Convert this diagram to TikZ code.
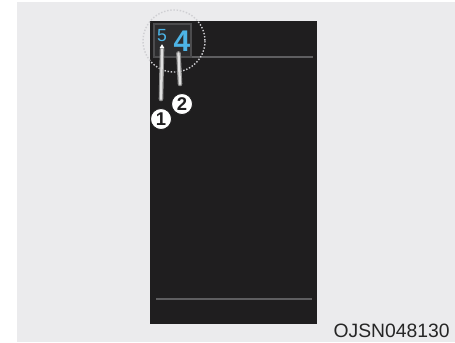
\documentclass[tikz,border=0pt]{standalone}
\usepackage{fontspec}
\setmainfont{Liberation Sans}
\usepackage{tikz}
\usetikzlibrary{positioning}
\definecolor{PageGray}{HTML}{EBEBED}
\definecolor{ScreenBlack}{HTML}{1F1E1F}
\definecolor{BoxGray}{HTML}{2C2C2E}
\definecolor{EdgeGray}{HTML}{4C4C4E}
\definecolor{RuleGray}{HTML}{5E5E60}
\definecolor{GearBlue}{HTML}{4DB4E6}
\definecolor{RingGray}{HTML}{CFCFD3}
\tikzset{
  gearbox/.style={
    draw=EdgeGray,fill=BoxGray,line width=0.6pt,
    minimum width=37*0.02cm,minimum height=33*0.02cm,inner sep=0pt
  },
  callout/.style={
    circle,draw=ScreenBlack,fill=white,line width=0.5pt,
    minimum size=21*0.02cm,inner sep=0pt,
    font=\fontsize{10.5}{10.5}\selectfont\bfseries\color{ScreenBlack}
  },
  leader/.style={
    line width=2.6pt,draw=black!45,line cap=round
  },
  leadercore/.style={
    line width=1.3pt,draw=white!88!black,line cap=round
  },
}

\begin{document}
\begin{tikzpicture}[x=0.02cm,y=-0.02cm]
  \useasboundingbox (0,0) rectangle (455,342);
  \fill[white] (0,0) rectangle (455,342);
  \fill[PageGray] (17,2) rectangle (455,342);
  % cluster display
  \fill[ScreenBlack] (150,21) rectangle (317,324);
  \draw[line width=0.8pt, draw=RuleGray] (192,57) -- (313,57);
  \draw[line width=0.8pt, draw=RuleGray] (156,299) -- (312,299);
  \node[gearbox] (box) at (172.5,40.5) {};
  \node[font=\fontsize{10}{10}\selectfont, text=GearBlue, inner sep=0pt] (d5) at (162,36) {5};
  \node[font=\fontsize{17}{17}\selectfont\bfseries, text=GearBlue, inner sep=0pt] (d4) at (182,41) {4};
  \draw[line width=0.8pt, draw=RingGray, dash pattern=on 0.8pt off 1pt] (174,41) circle (31);
  % callouts
  \node[callout] (c1) at (161,119) {1};
  \node[callout] (c2) at (182,104) {2};
  \coordinate (t1) at (161,99);
  \coordinate (t2) at (180,84);
  \draw[leader] (t1) -- ([yshift=-4pt]d5.south);
  \draw[leadercore] (t1) -- ([yshift=-4pt]d5.south);
  \fill[white] ([yshift=-1pt]d5.south) -- ++(-2.5,4) -- ++(5,0) -- cycle;
  \draw[leader] (t2) -- ([xshift=-2pt,yshift=-1pt]d4.south);
  \draw[leadercore] (t2) -- ([xshift=-2pt,yshift=-1pt]d4.south);
  % figure code
  \node[font=\fontsize{11}{11}\selectfont, anchor=south east, inner sep=0pt, text=black!85] (code) at (450,338) {OJSN048130};
\end{tikzpicture}
\end{document}
